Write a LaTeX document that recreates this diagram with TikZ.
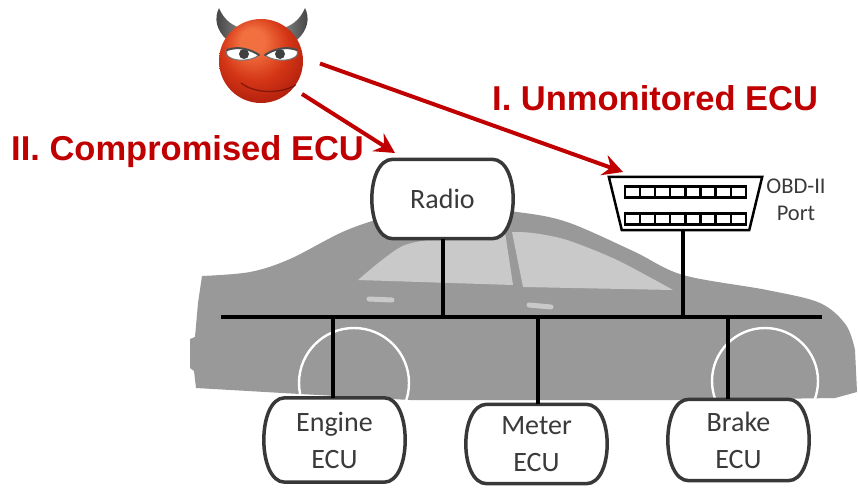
\documentclass[tikz,border=0pt]{standalone}
\usepackage{fontspec}
\setmainfont{Carlito}
\newfontfamily\headfont{Liberation Sans}
\usetikzlibrary{arrows.meta,calc}

\definecolor{alertred}{HTML}{C00000}
\definecolor{carbody}{HTML}{999999}
\definecolor{carglass}{HTML}{C9C9C9}
\definecolor{boxline}{HTML}{383838}
\definecolor{labeltext}{HTML}{3A3A3A}
\definecolor{skinhi}{HTML}{F27040}
\definecolor{skinmid}{HTML}{D43616}
\definecolor{skinlow}{HTML}{A3160A}
\definecolor{skinedge}{HTML}{5A0704}

\pgfdeclareradialshading{devilskin}{\pgfpoint{-6bp}{14bp}}{%
  color(0bp)=(skinhi); color(7bp)=(skinhi); color(20bp)=(skinmid);
  color(36bp)=(skinlow); color(50bp)=(skinedge)}

\pgfdeclarelayer{car}
\pgfdeclarelayer{shells}
\pgfsetlayers{car,shells,main}

\tikzset{
  ecu/.style={rectangle, minimum width=99pt, minimum height=#1, inner sep=0pt,
    align=center, font=\fontsize{28}{37}\selectfont, text=labeltext},
  eculine/.style={draw=boxline, line width=3.5pt, fill=white},
  bus/.style={line width=4.5pt, black},
  tap/.style={line width=4pt, black},
  attack/.style={alertred, line width=4pt,
    -{Stealth[length=20pt,width=21pt,inset=7pt]}},
  claim/.style={font=\headfont\bfseries\fontsize{34.5}{40}\selectfont,
    text=alertred, inner sep=0pt, anchor=base west},
  pin/.style={draw=black, line width=2.3pt, fill=white},
}

% bulging outline of an ECU box, built on the node's rectangle
\newcommand\ecuoutline[1]{%
  \path[eculine] (#1.north west) -- (#1.north east)
    .. controls ($(#1.north east)+(28,0)$) and ($(#1.south east)+(28,0)$) .. (#1.south east)
    -- (#1.south west)
    .. controls ($(#1.south west)+(-28,0)$) and ($(#1.north west)+(-28,0)$) .. (#1.north west)
    -- cycle;}

\begin{document}
\begin{tikzpicture}[x=1pt,y=-1pt]
\useasboundingbox (0,0) rectangle (858,487);

% ---------- car silhouette ----------
\begin{pgfonlayer}{car}
  \fill[white] (0,0) rectangle (858,487);
  \fill[carbody] plot[smooth,tension=0.55] coordinates {
      (202,276) (250,272) (290,259) (347,230) (400,214) (460,208) (517,212)
      (567,222) (633,251) (683,275) (767,290) (820,303) (846,325) (855,350)}
    -- (857,392) -- (835,398) -- (700,400) -- (410,400) -- (300,394)
    -- (196,388) -- (194,371) -- (190,368) -- (190,339) -- (195,337)
    -- (198,303) -- cycle;
  % side windows
  \fill[carglass] plot[smooth,tension=0.5] coordinates {
      (358,280) (382,260) (405,245) (440,238) (480,234) (505,232)}
    -- (513,285) -- cycle;
  \fill[carglass] plot[smooth,tension=0.5] coordinates {
      (512,232) (533,233) (567,240) (617,260) (673,290)}
    -- (523,287) -- cycle;
  % door handles
  \draw[carglass, line width=5pt, line cap=round] (369,299) -- (392,300);
  \draw[carglass, line width=5pt, line cap=round] (529,305) -- (551,307);
  % wheel arches
  \draw[white, line width=2.4pt] (354,383) circle[radius=55pt];
  \draw[white, line width=2.4pt] (765,381) circle[radius=53pt];
\end{pgfonlayer}

% ---------- ECUs ----------
\node[ecu=79pt] (radio)  at (442.5,199) {Radio};
\node[ecu=84pt] (engine) at (334.5,440) {Engine\\ECU};
\node[ecu=79pt] (meter)  at (536.5,444) {Meter\\ECU};
\node[ecu=81pt] (brake)  at (738.5,440) {Brake\\ECU};

\begin{pgfonlayer}{shells}
  \ecuoutline{radio}
  \ecuoutline{engine}
  \ecuoutline{meter}
  \ecuoutline{brake}
\end{pgfonlayer}

% ---------- OBD-II port ----------
\node[rectangle, minimum width=153pt, minimum height=53pt, inner sep=0pt]
  (obd) at (685.5,203.5) {};
\begin{pgfonlayer}{shells}
  \path[draw=black, line width=2.5pt, fill=white, line join=miter]
    (obd.north west) -- (obd.north east)
    -- ($(obd.south east)+(-13,0)$) -- ($(obd.south west)+(13,0)$) -- cycle;
\end{pgfonlayer}
\foreach \i in {0,...,7} {
  \draw[pin] ($(obd.center)+(-60.5+15.1*\i,-17)$) rectangle ++(15.1,11);
  \draw[pin] ($(obd.center)+(-60.5+15.1*\i,10)$) rectangle ++(15.1,11);
}
\node[font=\fontsize{22.5}{27}\selectfont, align=center, text=labeltext,
      inner sep=0pt] (obdlabel) at (796,200) {OBD-II\\Port};

% ---------- CAN bus ----------
\coordinate (busL) at (221,317);
\coordinate (busR) at (822,317);
\coordinate (obdTap) at ($(obd.south)+(-3,0)$);
\coordinate (engTap) at ($(engine.north)+(-1.5,0)$);
\coordinate (metTap) at ($(meter.north)+(1.5,0)$);
\coordinate (brkTap) at ($(brake.north)+(-11,0)$);
\draw[bus] (busL) -- (busR);
\draw[tap] (radio.south) -- (radio.south |- busL);
\draw[tap] (obdTap) -- (obdTap |- busL);
\draw[tap] (engTap) -- (engTap |- busL);
\draw[tap] (metTap) -- (metTap |- busL);
\draw[tap] (brkTap) -- (brkTap |- busL);

% ---------- attacker ----------
\coordinate (devil) at (261,61);
% horns
\shade[left color=black!75, right color=black!45]
  (227,40) .. controls (216,30) and (214,18) .. (219,8)
  .. controls (224,20) and (233,27) .. (245,29) -- cycle;
\shade[left color=black!45, right color=black!75]
  (297,40) .. controls (308,30) and (310,18) .. (305,8)
  .. controls (300,20) and (291,27) .. (279,29) -- cycle;
% head
\shade[shading=devilskin] (devil) circle[radius=42pt];
% smile
\draw[skinedge, opacity=0.6, line width=1.3pt]
  (241,83) .. controls (255,94) and (280,94) .. (296,85);
% eyes
\path[fill=white, draw=black!55, line width=1pt]
  (227,50) .. controls (238,46) and (250,49) .. (259,55)
  .. controls (252,61) and (236,62) .. (229,57)
  .. controls (226,55) and (226,52) .. (227,50) -- cycle;
\path[fill=white, draw=black!55, line width=1pt]
  (297,50) .. controls (286,46) and (274,49) .. (265,55)
  .. controls (272,61) and (288,62) .. (295,57)
  .. controls (298,55) and (298,52) .. (297,50) -- cycle;
\fill[black!75] (244,54) circle[radius=5pt];
\fill[black!75] (280,54) circle[radius=5pt];
\draw[black!70, line width=2pt, line cap=round]
  (227,50) .. controls (238,46) and (250,49) .. (259,55);
\draw[black!70, line width=2pt, line cap=round]
  (297,50) .. controls (286,46) and (274,49) .. (265,55);

% ---------- attack paths ----------
\coordinate (toOBD) at (320,63.5);
\coordinate (hitOBD) at (623,172);
\coordinate (toRadio) at (302,94);
\coordinate (hitRadio) at (395,153);
\draw[attack] (toOBD) -- (hitOBD);
\draw[attack] (toRadio) -- (hitRadio);

\node[claim] (unmonitored) at (492,110.5) {I. Unmonitored ECU};
\node[claim] (compromised) at (11,160.5) {II. Compromised ECU};
\end{tikzpicture}
\end{document}
